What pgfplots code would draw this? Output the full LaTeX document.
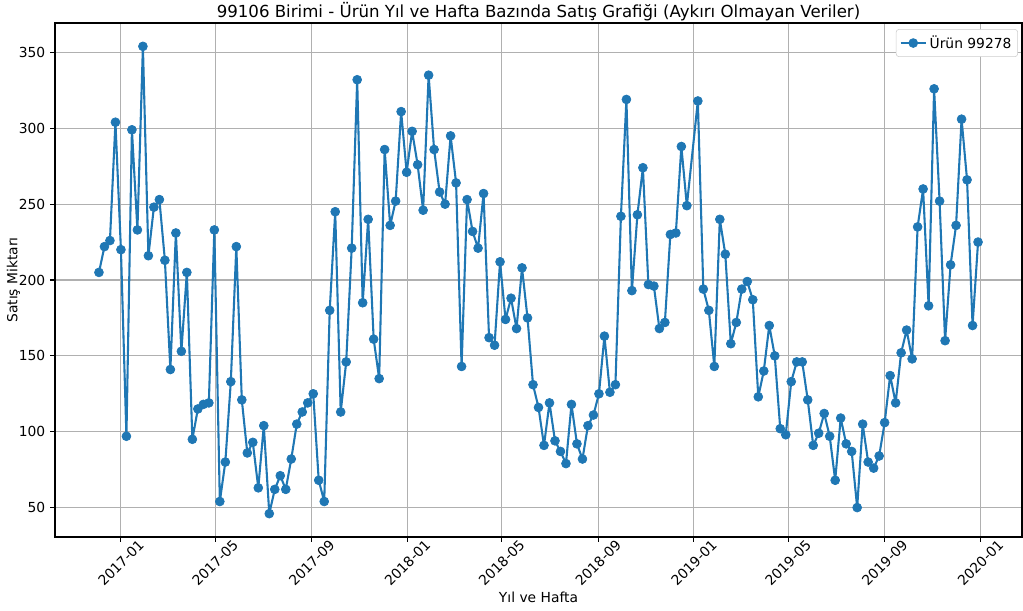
\documentclass[border=0pt]{standalone}
\usepackage{fontspec}
\setmainfont{DejaVu Sans}
\usepackage{pgfplots}
\pgfplotsset{compat=1.18}
\definecolor{tabblue}{HTML}{1F77B4}
\definecolor{gridgray}{HTML}{B0B0B0}
\begin{document}
\begin{tikzpicture}
\path[use as bounding box] (-0.55in,-0.73in) rectangle (9.68in,5.37in);
\begin{axis}[
  at={(0,0)}, anchor=south west,
  scale only axis, width=9.67in, height=5.14in,
  xmin=-84, xmax=1148, ymin=30.6, ymax=369.4,
  xtick={0,120,243,365,485,608,730,850,973,1095},
  xticklabels={2017-01,2017-05,2017-09,2018-01,2018-05,2018-09,2019-01,2019-05,2019-09,2020-01},
  ytick={50,100,150,200,250,300,350},
  grid=major, grid style={color=gridgray, line width=0.8bp},
  axis line style={line width=0.8bp},
  tick style={black, line width=0.8bp},
  tick align=outside, major tick length=3.5bp, tick pos=left,
  /pgf/number format/assume math mode=true,
  ticklabel style={font=\fontsize{10}{12}\selectfont},
  xticklabel style={yshift=-15bp, rotate=45, anchor=center},
  xlabel={Yıl ve Hafta}, ylabel={Satış Miktarı},
  xlabel style={at={(axis description cs:0.5,-0.1167)}, anchor=center, font=\fontsize{10}{12}\selectfont},
  ylabel style={at={(axis description cs:-0.0430,0.5)}, anchor=center, font=\fontsize{10}{12}\selectfont},
  title={99106 Birimi - Ürün Yıl ve Hafta Bazında Satış Grafiği (Aykırı Olmayan Veriler)},
  title style={at={(axis description cs:0.5,1.006)}, anchor=center, font=\fontsize{12}{14}\selectfont},
  legend style={at={(0.9958,0.988)}, anchor=north east, draw=black!20, rounded corners=2bp, font=\fontsize{10}{12}\selectfont, inner sep=2.5bp},
  legend image code/.code={\draw[mark repeat=2,mark phase=2,#1] plot coordinates {(0cm,0cm) (0.32cm,0cm) (0.64cm,0cm)};},
]
\addplot[tabblue, line width=1.5bp, line join=round, mark=*, mark size=3.2bp, mark options={solid, fill=tabblue, draw=tabblue, line width=0.5bp}] coordinates {
(-28,205)(-21,222)(-14,226)(-7,304)(0,220)(7,97)(14,299)(21,233)(28,354)(35,216)
(42,248)(49,253)(56,213)(63,141)(70,231)(77,153)(84,205)(91,95)(98,115)(105,118)
(112,119)(119,233)(126,54)(133,80)(140,133)(147,222)(154,121)(161,86)(168,93)(175,63)
(182,104)(189,46)(196,62)(203,71)(210,62)(217,82)(224,105)(231,113)(238,119)(245,125)
(252,68)(259,54)(266,180)(273,245)(280,113)(287,146)(294,221)(301,332)(308,185)(315,240)
(322,161)(329,135)(336,286)(343,236)(350,252)(357,311)(364,271)(371,298)(378,276)(385,246)
(392,335)(399,286)(406,258)(413,250)(420,295)(427,264)(434,143)(441,253)(448,232)(455,221)
(462,257)(469,162)(476,157)(483,212)(490,174)(497,188)(504,168)(511,208)(518,175)(525,131)
(532,116)(539,91)(546,119)(553,94)(560,87)(567,79)(574,118)(581,92)(588,82)(595,104)
(602,111)(609,125)(616,163)(623,126)(630,131)(637,242)(644,319)(651,193)(658,243)(665,274)
(672,197)(679,196)(686,168)(693,172)(700,230)(707,231)(714,288)(721,249)
(735,318)(742,194)(749,180)(756,143)(763,240)(770,217)(777,158)(784,172)(791,194)(798,199)
(805,187)(812,123)(819,140)(826,170)(833,150)(840,102)(847,98)(854,133)(861,146)(868,146)
(875,121)(882,91)(889,99)(896,112)(903,97)(910,68)(917,109)(924,92)(931,87)(938,50)
(945,105)(952,80)(959,76)(966,84)(973,106)(980,137)(987,119)(994,152)(1001,167)(1008,148)
(1015,235)(1022,260)(1029,183)(1036,326)(1043,252)(1050,160)(1057,210)(1064,236)(1071,306)(1078,266)
(1085,170)(1092,225)
};
\addlegendentry{Ürün 99278}
\end{axis}
\end{tikzpicture}
\end{document}
